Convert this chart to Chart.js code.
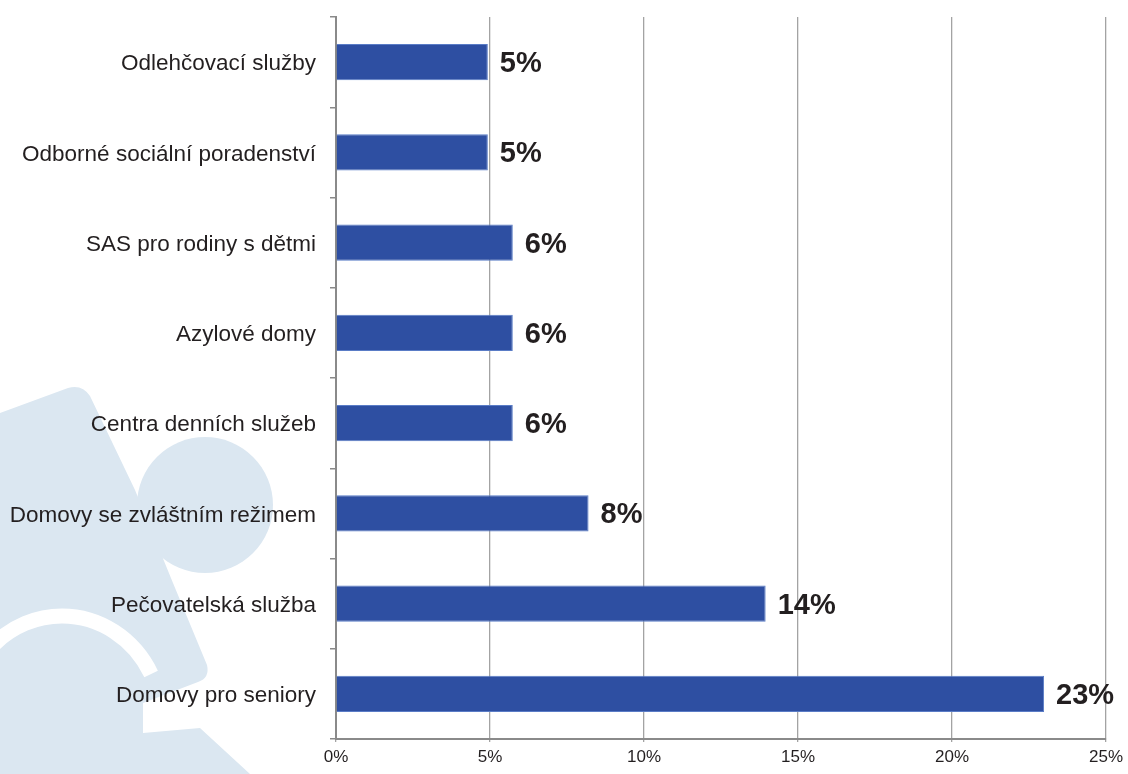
<!DOCTYPE html>
<html>
<head>
<meta charset="utf-8">
<script src="https://cdn.jsdelivr.net/npm/chart.js@4.4.0/dist/chart.umd.min.js"></script>
<style>
  html, body { margin: 0; padding: 0; background: #ffffff; }
  #wrap { width: 1128px; height: 774px; position: relative; }
</style>
</head>
<body>
<div id="wrap"><canvas id="graph"></canvas></div>
<script>
const categories = [
  'Odlehčovací služby',
  'Odborné sociální poradenství',
  'SAS pro rodiny s dětmi',
  'Azylové domy',
  'Centra denních služeb',
  'Domovy se zvláštním režimem',
  'Pečovatelská služba',
  'Domovy pro seniory'
];
const shares = [4.93, 4.93, 5.74, 5.74, 5.74, 8.2, 13.95, 22.99];
const shareLabels = ['5%', '5%', '6%', '6%', '6%', '8%', '14%', '23%'];
const xTicks = [0, 5, 10, 15, 20, 25];

const FONT = '"Liberation Sans", Arial, sans-serif';
Chart.defaults.font.family = FONT;
Chart.defaults.color = '#231f20';

// light puzzle watermark behind the chart
const puzzleBg = {
  id: 'puzzleBg',
  beforeDraw(chart) {
    const c = chart.ctx;
    c.save();
    c.fillStyle = '#dbe7f1';
    c.beginPath();
    c.moveTo(0, 413);
    c.lineTo(68, 388);
    c.quadraticCurveTo(82, 384, 90, 396);
    c.lineTo(135, 490);
    c.lineTo(173, 583);
    c.lineTo(207, 665);
    c.quadraticCurveTo(210, 678, 198, 682);
    c.lineTo(143, 703);
    c.lineTo(143, 733);
    c.lineTo(200, 728);
    c.lineTo(250, 774);
    c.lineTo(0, 774);
    c.closePath();
    c.fill();
    c.beginPath();
    c.arc(205, 505, 68, 0, Math.PI * 2);
    c.fill();
    // white gap between the two pieces
    c.strokeStyle = '#ffffff';
    c.lineWidth = 15;
    c.beginPath();
    c.ellipse(62, 722, 100, 106, 0, Math.PI * 1.0, Math.PI * 1.85);
    c.stroke();
    c.restore();
  }
};

const barLabels = {
  id: 'barLabels',
  afterDatasetsDraw(chart) {
    const c = chart.ctx;
    const meta = chart.getDatasetMeta(0);
    c.save();
    c.font = 'bold 29px ' + FONT;
    c.fillStyle = '#231f20';
    c.textAlign = 'left';
    c.textBaseline = 'middle';
    meta.data.forEach((bar, i) => {
      c.fillText(shareLabels[i], bar.x + 12, bar.y + 2);
    });
    c.restore();
  }
};

new Chart(document.getElementById('graph'), {
  type: 'bar',
  data: {
    labels: categories,
    datasets: [{
      data: shares,
      backgroundColor: '#2e4fa2',
      borderColor: '#5a7cc6',
      borderWidth: 1,
      barPercentage: 0.8,
      categoryPercentage: 0.5
    }]
  },
  options: {
    indexAxis: 'y',
    responsive: true,
    maintainAspectRatio: false,
    animation: false,
    layout: { padding: { top: 17, right: 21, left: 0, bottom: 0 } },
    plugins: {
      legend: { display: false },
      tooltip: { enabled: false }
    },
    scales: {
      x: {
        min: 0,
        max: 25,
        afterBuildTicks(axis) {
          axis.ticks = xTicks.map(v => ({ value: v }));
        },
        afterFit(axis) { axis.height = 35; },
        grid: { color: '#a3a3a3', lineWidth: 1.3, tickLength: 3 },
        border: { color: '#8a8a8a', width: 2 },
        ticks: {
          font: { size: 17 },
          color: '#231f20',
          padding: 5,
          maxRotation: 0,
          callback: v => v + '%'
        }
      },
      y: {
        afterFit(axis) {
          axis.width = 336;
          axis.paddingTop = 0;
          axis.paddingBottom = 0;
        },
        grid: { drawOnChartArea: false, color: '#8a8a8a', lineWidth: 1.5, tickLength: 6, offset: true },
        border: { color: '#8a8a8a', width: 2 },
        ticks: {
          font: { size: 22.5 },
          color: '#231f20',
          padding: 14,
          labelOffset: 2
        }
      }
    }
  },
  plugins: [puzzleBg, barLabels]
});
</script>
</body>
</html>
